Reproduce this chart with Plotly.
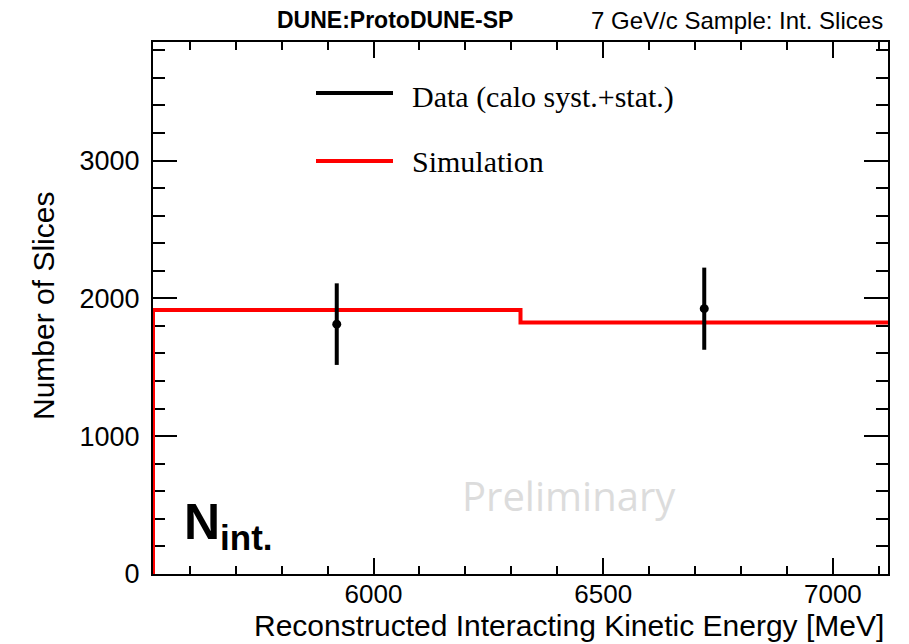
import plotly.graph_objects as go

# ---- data ----
bin_edges = [5520, 6320, 7120]
sim_counts = [1915, 1825]
data_x = [5920, 6720]
data_y = [1813, 1925]
data_err = [296, 298]

x_range = [5520, 7120]
y_range = [0, 3860]
x_ticks = [6000, 6500, 7000]
y_ticks = [0, 1000, 2000, 3000]

W, H = 909, 644
L, R, T, B = 153, 21, 42, 70
PW, PH = W - L - R, H - T - B


def px(xp):
    return (xp - L) / PW


def py(yp):
    return 1 - (yp - T) / PH


FONT = "Liberation Sans"

sim_x = [bin_edges[0]] + bin_edges
sim_y = [0] + sim_counts + [sim_counts[-1]]

fig = go.Figure()
fig.add_trace(go.Scatter(
    x=sim_x, y=sim_y, mode="lines", line=dict(color="#ff0000", width=4, shape="hv"),
    name="Simulation", showlegend=False, hoverinfo="skip"))
fig.add_trace(go.Scatter(
    x=data_x, y=data_y, mode="markers",
    marker=dict(color="black", size=9),
    error_y=dict(type="data", array=data_err, color="black", thickness=4, width=0),
    name="Data (calo syst.+stat.)", showlegend=False))

axis_common = dict(showline=True, linecolor="black", linewidth=2, mirror="allticks",
                   ticks="inside", tickcolor="black", tickwidth=1.5,
                   showgrid=False, zeroline=False,
                   layer="below traces")

fig.update_xaxes(range=x_range, tickvals=x_ticks, ticklen=16,
                 tickfont=dict(family=FONT, size=26, color="black"),
                 minor=dict(dtick=100, tick0=5500, ticklen=8, ticks="inside", tickcolor="black", tickwidth=1.5, showgrid=False),
                 ticklabelstandoff=-4, **axis_common)
fig.update_yaxes(range=y_range, tickvals=y_ticks, ticklen=24,
                 tickfont=dict(family=FONT, size=27, color="black"),
                 minor=dict(dtick=200, tick0=0, ticklen=12, ticks="inside", tickcolor="black", tickwidth=1.5, showgrid=False),
                 ticklabelstandoff=6, **axis_common)

ann = []
# titles
ann.append(dict(text="<b>DUNE:ProtoDUNE-SP</b>", x=px(395), y=py(20), xref="paper", yref="paper",
                xanchor="center", yanchor="middle", showarrow=False,
                font=dict(family=FONT, size=23, color="black")))
ann.append(dict(text="7 GeV/c Sample: Int. Slices", x=px(885), y=py(20), xref="paper", yref="paper",
                xanchor="right", yanchor="middle", showarrow=False,
                font=dict(family=FONT, size=24, color="black")))
# axis titles
ann.append(dict(text="Reconstructed Interacting Kinetic Energy [MeV]", x=px(886), y=py(625),
                xref="paper", yref="paper", xanchor="right", yanchor="middle", showarrow=False,
                font=dict(family=FONT, size=30, color="black")))
ann.append(dict(text="Number of Slices", x=px(43), y=py(306), xref="paper", yref="paper",
                xanchor="center", yanchor="middle", textangle=-90, showarrow=False,
                font=dict(family=FONT, size=30, color="black")))
# legend
ann.append(dict(text="Data (calo syst.+stat.)", x=px(410), y=py(97), xref="paper", yref="paper",
                xanchor="left", yanchor="middle", showarrow=False,
                font=dict(family="Liberation Serif", size=30, color="black")))
ann.append(dict(text="Simulation", x=px(410), y=py(161), xref="paper", yref="paper",
                xanchor="left", yanchor="middle", showarrow=False,
                font=dict(family="Liberation Serif", size=30, color="black")))
# other labels
ann.append(dict(text="Preliminary", x=px(460), y=py(495), xref="paper", yref="paper",
                xanchor="left", yanchor="middle", showarrow=False,
                font=dict(family="Open Sans", size=40, color="#dcdcdc")))
ann.append(dict(text="<b>N<sub>int.</sub></b>", x=px(182), y=py(525), xref="paper", yref="paper",
                xanchor="left", yanchor="middle", showarrow=False,
                font=dict(family=FONT, size=50, color="black")))

shapes = [
    dict(type="line", xref="paper", yref="paper", x0=px(316), x1=px(393), y0=py(93), y1=py(93),
         line=dict(color="black", width=4)),
    dict(type="line", xref="paper", yref="paper", x0=px(316), x1=px(393), y0=py(161), y1=py(161),
         line=dict(color="#ff0000", width=4)),
]

fig.update_layout(width=W, height=H, margin=dict(l=L, r=R, t=T, b=B),
                  plot_bgcolor="white", paper_bgcolor="white",
                  annotations=ann, shapes=shapes, showlegend=False)

fig.write_html("out.html")
